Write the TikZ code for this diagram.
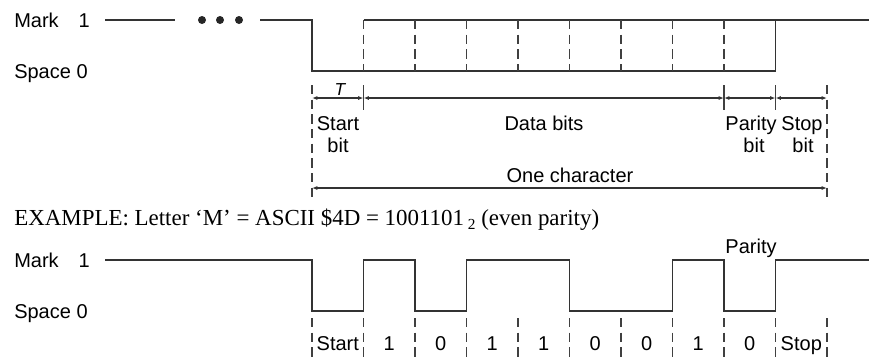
\documentclass[tikz,border=0pt]{standalone}
\usepackage{fontspec}
\setmainfont{Liberation Sans}
\newfontfamily\exfont{Liberation Serif}
\usetikzlibrary{arrows.meta}
\tikzset{
  sigline/.style={line width=1.1pt, draw=black!80, line join=miter},
  bitline/.style={line width=1pt, draw=black!75, dash pattern=on 7pt off 4pt},
  tickline/.style={line width=0.9pt, draw=black!75},
  dimline/.style={line width=0.8pt, draw=black!80,
    {Latex[length=4pt,width=3pt]}-{Latex[length=4pt,width=3pt]}},
  lbl/.style={font=\fontsize{15}{17}\selectfont, inner sep=0pt, anchor=base},
}
\begin{document}
\begin{tikzpicture}[x=0.75pt,y=-0.75pt]
\useasboundingbox (0,0) rectangle (869,358);

% upper frame: general character
\node[lbl,anchor=base west] (mark1) at (14,27) {Mark\hspace{1em}1};
\node[lbl,anchor=base west] (space1) at (14,78) {Space 0};
\draw[sigline] (105,20) -- (175,20);
\fill[black!85] (202,20) circle (3pt) (220,20) circle (3pt) (239,20) circle (3pt);
\draw[sigline] (260,20) -- (312,20) -- (312,71) -- (775.5,71) -- (775.5,20);
\draw[sigline] (363.5,20) -- (869,20);
\draw[bitline] (363.5,20) -- (363.5,71);
\draw[bitline] (415,20) -- (415,71);
\draw[bitline] (466.5,20) -- (466.5,71);
\draw[bitline] (518,20) -- (518,71);
\draw[bitline] (569.5,20) -- (569.5,71);
\draw[bitline] (621,20) -- (621,71);
\draw[bitline] (672.5,20) -- (672.5,71);
\draw[bitline] (724,20) -- (724,71);

% dimensions
\draw[bitline] (312,85) -- (312,202);
\draw[bitline] (827,85) -- (827,202);
\draw[tickline] (363.5,85) -- (363.5,110);
\draw[tickline] (724,85) -- (724,110);
\draw[tickline] (775.5,85) -- (775.5,110);
\coordinate (t0) at (312,98);
\coordinate (t1) at (363.5,98);
\coordinate (t8) at (724,98);
\coordinate (t9) at (775.5,98);
\coordinate (t10) at (827,98);
\coordinate (c0) at (312,188);
\coordinate (c10) at (827,188);
\draw[dimline] (t0) -- (t1);
\draw[dimline] (t1) -- (t8);
\draw[dimline] (t8) -- (t9);
\draw[dimline] (t9) -- (t10);
\draw[dimline] (c0) -- (c10);

\node[lbl,font=\fontsize{13}{15}\selectfont\itshape] (tlbl) at (340,95) {T};
\node[lbl] (startlbl) at (338,130) {Start};
\node[lbl] (startbit) at (338,152) {bit};
\node[lbl] (datalbl) at (544,130) {Data bits};
\node[lbl] (paritylbl) at (751,130) {Parity};
\node[lbl] (paritybit) at (754,152) {bit};
\node[lbl] (stoplbl) at (802,130) {Stop};
\node[lbl] (stopbit) at (803,152) {bit};
\node[lbl] (charlbl) at (570,182) {One character};

% example
\node[anchor=base west, inner sep=0pt, font=\exfont\fontsize{17.2}{20}\selectfont] (example) at (14,225)
  {EXAMPLE: Letter ‘M’ = ASCII \$4D = 1001101\,\raisebox{-0.45ex}{\fontsize{11.5}{13}\selectfont 2} (even parity)};

% lower frame: letter M
\node[lbl,anchor=base west] (mark2) at (14,267) {Mark\hspace{1em}1};
\node[lbl,anchor=base west] (space2) at (14,318) {Space 0};
\draw[sigline] (105,260) -- (312,260) -- (312,311) -- (363.5,311) -- (363.5,260)
  -- (415,260) -- (415,311) -- (466.5,311) -- (466.5,260) -- (569.5,260)
  -- (569.5,311) -- (672.5,311) -- (672.5,260) -- (724,260) -- (724,311)
  -- (775.5,311) -- (775.5,260) -- (869,260);
\node[lbl] (paritytop) at (751,253) {Parity};

\draw[bitline] (312,318) -- (312,358);
\draw[bitline] (363.5,318) -- (363.5,358);
\draw[bitline] (415,318) -- (415,358);
\draw[bitline] (466.5,318) -- (466.5,358);
\draw[bitline] (518,318) -- (518,358);
\draw[bitline] (569.5,318) -- (569.5,358);
\draw[bitline] (621,318) -- (621,358);
\draw[bitline] (672.5,318) -- (672.5,358);
\draw[bitline] (724,318) -- (724,358);
\draw[bitline] (775.5,318) -- (775.5,358);
\draw[bitline] (827,318) -- (827,358);

\node[lbl] (bstart) at (337.8,350) {Start};
\node[lbl] (bit1) at (389.3,350) {1};
\node[lbl] (bit2) at (440.8,350) {0};
\node[lbl] (bit3) at (492.3,350) {1};
\node[lbl] (bit4) at (543.8,350) {1};
\node[lbl] (bit5) at (595.3,350) {0};
\node[lbl] (bit6) at (646.8,350) {0};
\node[lbl] (bit7) at (698.3,350) {1};
\node[lbl] (bpar) at (749.8,350) {0};
\node[lbl] (bstop) at (801.3,350) {Stop};
\end{tikzpicture}
\end{document}
